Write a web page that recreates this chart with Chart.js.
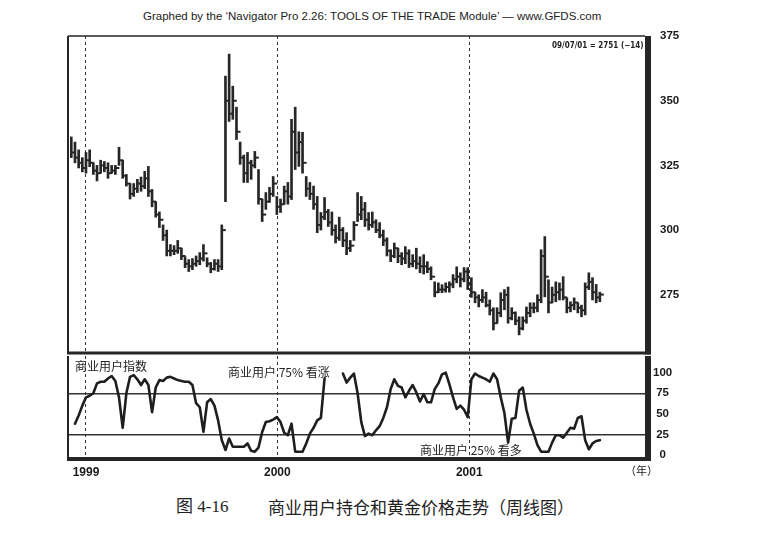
<!DOCTYPE html>
<html><head><meta charset="utf-8">
<script src="https://cdn.jsdelivr.net/npm/chart.js@4/dist/chart.umd.min.js"></script>
<style>
html,body{margin:0;padding:0;background:#fff;}
#wrap{position:relative;width:768px;height:540px;overflow:hidden;background:#fff;}
canvas{position:absolute;left:0;}
.t{position:absolute;white-space:nowrap;color:#222;line-height:1;}
</style></head><body>
<div id="wrap">
<div class="t" style="left:143px;top:11px;font-size:11.5px;font-family:'Liberation Sans',Arial,sans-serif;">Graphed by the ‘Navigator Pro 2.26: TOOLS OF THE TRADE Module’ — www.GFDS.com</div>
<canvas id="c1" width="768" height="370" style="top:0"></canvas>
<canvas id="c2" width="768" height="144" style="top:340px"></canvas>
<div class="t" style="left:552px;top:42px;font-size:8px;font-weight:bold;font-family:'DejaVu Sans Condensed','DejaVu Sans',sans-serif;">09/07/01 = 2751 (−14)</div>
<div class="t" style="left:75px;top:360px;font-size:12px;font-family:'Noto Sans CJK SC',sans-serif;">商业用户指数</div>
<div class="t" style="left:228px;top:366px;font-size:12px;font-family:'Noto Sans CJK SC',sans-serif;">商业用户 75% 看涨</div>
<div class="t" style="left:420px;top:444px;font-size:12px;font-family:'Noto Sans CJK SC',sans-serif;">商业用户 25% 看多</div>
<div class="t" style="left:625px;top:465px;font-size:11px;font-family:'Noto Sans CJK SC',sans-serif;">（年）</div>
<div class="t" style="left:176px;top:498px;font-size:17px;font-family:'Liberation Serif','Noto Sans CJK SC',serif;">图 4-16</div>
<div class="t" style="left:268px;top:498px;font-size:17px;font-family:'Noto Sans CJK SC',sans-serif;">商业用户持仓和黄金价格走势（周线图）</div>
</div>
<script>
// ---- data (weekly, starting 4 weeks before 1999) ----
const firstWeek = -4;
const yearTicks = [0, 52.14, 104.43];
const yearLabels = ['1999', '2000', '2001'];
const priceTicks = [275, 300, 325, 350, 375];
const indexTicks = [0, 25, 50, 75, 100];
const indexLines = [25, 75];

const high = [
336,334,331,328,330,331,326,325,327,326.5,
326,325,325,332,327,321.5,318,318,319.6,320.5,
322.7,324.6,315.7,311,307,302,300,294.4,294,296,
293,289.7,288.6,289,290,291.3,294.4,289.3,287.5,288.6,
288.6,302,359.5,368,355.6,347.5,334,329,330,327,
330.4,323.4,312,314.5,316.5,320.7,313,312,317,318.4,
342.8,347.5,338,337.8,320.7,318.4,317,313,306.8,312.6,
308,307,302,305,301,299,296,303.3,314.5,313,
310.7,306.8,307,304,302.9,300,297,292.4,295,293,
291.3,293.6,292.4,290.5,293,289.7,290.5,287.8,285.8,280,
279.6,278.9,279.6,280,282.8,285.8,283.5,285.5,285.5,281.6,
276,275,277,276,273,270,270,275.8,277,278,
270,268.4,266.5,266.5,270.3,271.9,271.9,275,292.4,297.5,
280.8,278,280,279.6,282,273.8,272.3,273.8,271.9,271,
279.6,283.5,281.6,279,276
];
const low = [
328,326,324,322.5,322,324.5,321.5,319,322,322.5,
320,322,321.5,325,320,317,312,313,314.5,315,
316,313,309,305,301,296,290,290,290.5,291,
288.6,285.5,284,284.7,286,286.6,288,285.8,283.5,284.5,
284,284.7,311,342,342.8,335,325.4,318.4,318.4,319.6,
324,310,303.3,308,310.7,313,306,306.8,310,310,
311.8,323.4,324.6,322,313,311.8,308,299,300,304,
301.4,298,295,296,293.6,290.5,291.7,296,303.3,304,
301.4,300,301,299,297,294,290,287.8,289.3,287.4,
286.6,287,285.5,285.8,285,283.5,283,283.5,280.8,274.2,
275.8,275.8,276,276,277.7,279.6,278,280,277,274,
271.9,270.3,272,270.3,267.2,261.4,264,266.5,269.2,264,
265.3,263.4,259.5,261.4,264,266.5,268,268.4,271.9,274.2,
268,271.9,272.3,273,273,268,268.4,269.2,268,266.5,
267.2,277,273,271.9,272.3
];
const close = [
330,328,326,324,327,326,323,322,325,324,
322,323,324,327,321,318,314,316,318,317,
320,315,311,306,304,298,292,292,292,293,
290,287,286,287,288,289,291,287,285,287,
286,300,350,345,350,338,328,322,326,325,
328,312,306,311,314,318,309,310,315,313,
338,330,334,326,316,314,310,302,305,307,
303,300,297,300,296,293,294,302,306,308,
304,302,303,300,298,296,292,290,293,290,
289,291,287,288,287,286,286,285,282,276,
277,277,278,279,281,282,281,284,279,276,
274,273,274,271,269,264,268,273,275,266,
268,265,262,265,268,270,270,273,290,282,
272,275,276,277,274,270,271,272,270,269,
278,280,276,274,275.1
];
const cuIndex = [
null,38,48,60,70,72,75,87,89,89,
93,96,90,70,33,75,95,97,92,85,
92,85,52,82,91,90,94,95,93,91,
90,89,89,85,63,58,28,64,68,60,
42,18,6,20,10,10,10,10,14,5,
4,9,28,40,41,43,46,40,27,24,
38,4,4,4,14,26,33,42,45,93,
null,null,null,null,99,88,94,99,75,40,
23,26,24,30,35,45,58,80,92,84,
82,70,78,85,76,65,74,64,64,80,
87,98,100,86,70,56,60,55,46,92,
99,96,94,92,89,99,92,70,51,15,
44,45,78,82,55,38,26,12,4,4,
4,15,24,24,21,27,33,32,45,47,
18,7,14,17,18
];
const weeks = high.map((_, i) => firstWeek + i);

// ---- helpers ----
const INK = '#262626';
const framePlugin = {
  id: 'frame',
  afterDraw(chart, args, o) {
    const {ctx, chartArea: a} = chart;
    ctx.save();
    ctx.fillStyle = o.color;
    if (o.top) ctx.fillRect(a.left, a.top - o.top / 2, a.right - a.left, o.top);
    ctx.fillRect(a.left - o.left / 2, a.top, o.left, a.bottom - a.top);
    ctx.fillRect(a.right, a.top, o.right, a.bottom - a.top + o.bottom / 2);
    ctx.fillRect(a.left - o.left / 2, a.bottom - o.bottom / 2, a.right - a.left + o.right + o.left / 2, o.bottom);
    ctx.restore();
  }
};
function makeTick() {
  const c = document.createElement('canvas');
  c.width = 10; c.height = 4;
  const g = c.getContext('2d');
  g.fillStyle = INK;
  g.fillRect(5, 1, 4, 2);
  return c;
}
const xBase = () => ({
  type: 'linear', min: -4.9, max: 152.3, offset: false,
  afterBuildTicks: s => { s.ticks = yearTicks.map(v => ({value: v})); },
  grid: {color: '#333', lineWidth: 1, drawTicks: false, offset: false},
  border: {display: false, dash: [3, 3]}
});

Chart.defaults.animation = false;
Chart.defaults.font.family = "'Liberation Sans', Arial, sans-serif";

// ---- price panel ----
const x1 = xBase();
x1.ticks = {display: false};
x1.afterFit = s => { s.height = 0; };
new Chart(document.getElementById('c1'), {
  type: 'bar',
  data: {
    datasets: [
      {type: 'bar', data: weeks.map((w, i) => ({x: w, y: [low[i], high[i]]})),
       backgroundColor: INK, barThickness: 2, grouped: false, order: 2},
      {type: 'line', data: weeks.map((w, i) => ({x: w, y: close[i]})),
       showLine: false, pointStyle: makeTick(), pointRadius: 3, pointHoverRadius: 3, order: 1}
    ]
  },
  plugins: [framePlugin],
  options: {
    responsive: false,
    layout: {padding: {top: 36, bottom: 17, left: 68, right: 0}},
    plugins: {legend: {display: false}, tooltip: {enabled: false},
              frame: {color: INK, top: 1.5, left: 2, right: 6, bottom: 3}},
    scales: {
      x: x1,
      y: {
        position: 'right', min: 252.5, max: 375,
        afterBuildTicks: s => { s.ticks = priceTicks.map(v => ({value: v})); },
        ticks: {padding: 7, color: '#1a1a1a', font: {size: 11.5, weight: 'bold'}},
        grid: {display: false}, border: {display: false},
        afterFit: s => { s.width = 123; }
      }
    }
  }
});

// ---- commercial-user index panel ----
const x2 = xBase();
x2.ticks = {display: true, padding: 6, color: '#1a1a1a', font: {size: 12, weight: 'bold'},
            maxRotation: 0, autoSkip: false,
            callback: v => yearLabels[yearTicks.indexOf(v)] ?? ''};
x2.afterFit = s => { s.height = 25; };
new Chart(document.getElementById('c2'), {
  type: 'line',
  data: {
    datasets: [
      {data: weeks.map((w, i) => ({x: w, y: cuIndex[i]})),
       borderColor: '#1e1e1e', borderWidth: 2.6, pointRadius: 0, tension: 0,
       spanGaps: false, borderJoinStyle: 'round', borderCapStyle: 'round'}
    ]
  },
  plugins: [framePlugin],
  options: {
    responsive: false,
    layout: {padding: {top: 16, bottom: 0, left: 68, right: 0}},
    plugins: {legend: {display: false}, tooltip: {enabled: false},
              frame: {color: INK, top: 0, left: 2, right: 6, bottom: 4}},
    scales: {
      x: x2,
      y: {
        position: 'right', min: -4.9, max: 120.3,
        afterBuildTicks: s => { s.ticks = indexTicks.map(v => ({value: v})); },
        ticks: {padding: 8, crossAlign: 'center', color: '#1a1a1a', font: {size: 11.5, weight: 'bold'}},
        grid: {drawTicks: false, lineWidth: 1.5,
               color: c => (c.tick && indexLines.includes(c.tick.value)) ? '#333' : 'rgba(0,0,0,0)'},
        border: {display: false},
        afterFit: s => { s.width = 123; }
      }
    }
  }
});
</script>
</body></html>
